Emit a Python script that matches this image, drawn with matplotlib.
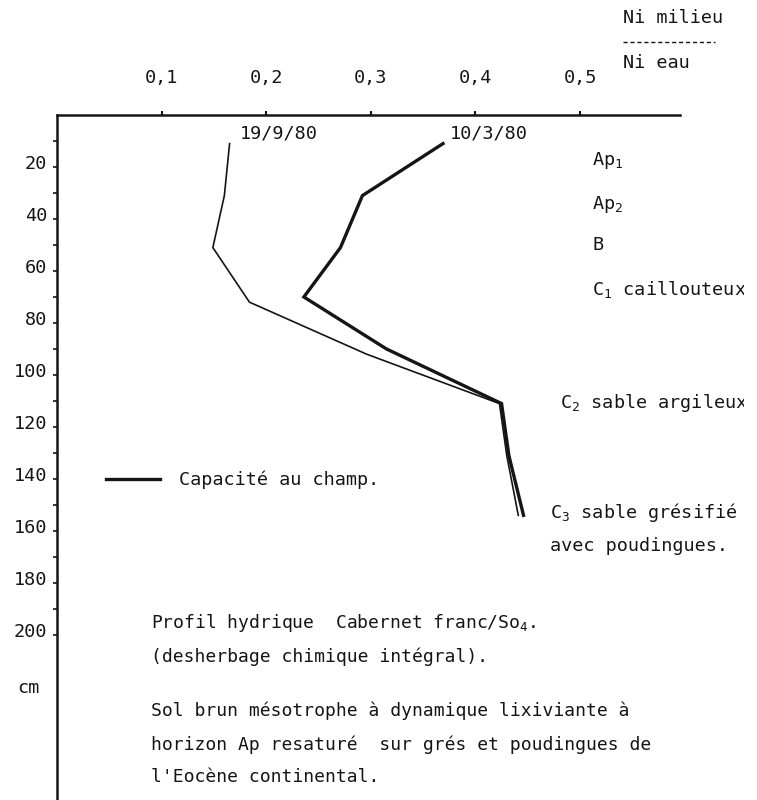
import matplotlib
matplotlib.use('Agg')
import matplotlib.pyplot as plt
from matplotlib.transforms import ScaledTranslation, Bbox, TransformedBbox

plt.rcParams['font.family'] = ['DejaVu Sans Mono']
plt.rcParams['mathtext.fontset'] = 'custom'
plt.rcParams['mathtext.rm'] = 'DejaVu Sans Mono'
plt.rcParams['mathtext.it'] = 'DejaVu Sans Mono'
plt.rcParams['font.size'] = 13.3

# profondeur (cm) et rapport Ni milieu / Ni eau
prof_sept = [11, 31, 51, 72, 92, 111, 131, 154]
ni_sept = [0.165, 0.160, 0.149, 0.184, 0.296, 0.423, 0.430, 0.441]
prof_mars = [11, 31, 51, 70, 90, 111, 131, 154]
ni_mars = [0.369, 0.292, 0.271, 0.236, 0.315, 0.425, 0.432, 0.446]

xticks = [0.1, 0.2, 0.3, 0.4, 0.5]
xlabels = ['0,1', '0,2', '0,3', '0,4', '0,5']
yticks = [10, 20, 30, 40, 50, 60, 70, 80, 90, 100,
          110, 120, 130, 140, 150, 160, 170, 180, 190, 200]
ylabels = ['', '20', '', '40', '', '60', '', '80', '', '100',
           '', '120', '', '140', '', '160', '', '180', '', '200']

horizons = ['Ap$_1$', 'Ap$_2$', 'B', 'C$_1$ caillouteux',
            'C$_2$ sable argileux', 'C$_3$ sable grésifié', 'avec poudingues.']

ink = '#151515'

fig = plt.figure(figsize=(7.57, 8.0), dpi=100)
ax = fig.add_axes([57/757, 0, (680-57)/757, 1-115/800])

ax.plot(ni_sept, prof_sept, color=ink, lw=1.2, solid_joinstyle='miter')
mars, = ax.plot(ni_mars, prof_mars, color=ink, lw=2.4, solid_joinstyle='miter')

ax.set_xlim(0, 0.5956)
ax.set_ylim(263.5, 0)

ax.xaxis.tick_top()
ax.set_xticks(xticks)
ax.set_xticklabels(xlabels)
ax.set_yticks(yticks)
ax.set_yticklabels(ylabels)
ax.tick_params(axis='x', direction='out', length=3, width=1.5, pad=17, colors=ink)
ax.tick_params(axis='y', direction='out', length=3, width=1.2, pad=4, colors=ink)
for s in ['right', 'bottom']:
    ax.spines[s].set_visible(False)
for s in ['top', 'left']:
    ax.spines[s].set_linewidth(1.8)
    ax.spines[s].set_color(ink)

off = ScaledTranslation(0, 0.05, fig.dpi_scale_trans)
for lab in ax.get_yticklabels():
    lab.set_transform(lab.get_transform() + off)

fig.text(17/757, 1-688/800, 'cm', va='center', color=ink)

# dates
ax.text(0.175, 7, '19/9/80', va='center', color=ink)
ax.text(0.376, 7, '10/3/80', va='center', color=ink)

# horizons (texte coupé au bord droit comme sur l'original)
clip = TransformedBbox(Bbox([[0, 0], [744/757, 1]]), fig.transFigure)
hx = [592, 592, 592, 592, 560, 550, 550]
hy = [165, 209, 250, 295, 408, 518, 551]
for t, x, y in zip(horizons, hx, hy):
    txt = fig.text(x/757, 1-y/800, t, va='baseline', color=ink)
    txt.set_clip_box(clip)
    txt.set_clip_on(True)

# Ni milieu / Ni eau
fig.text(623/757, 1-18/800, 'Ni milieu', va='center', color=ink)
fig.add_artist(plt.Line2D([623/757, 715/757], [1-42/800, 1-42/800],
                          color=ink, lw=1, ls=(0, (3, 2))))
fig.text(623/757, 1-63/800, 'Ni eau', va='center', color=ink)

ax.legend([mars], ['Capacité au champ.'], frameon=False,
          loc='center left', bbox_to_anchor=(106/757, 1-480/800),
          bbox_transform=fig.transFigure, borderpad=0, borderaxespad=0,
          handlelength=2.9, handletextpad=1.05, prop={'size': 13.3},
          labelcolor=ink)

fig.text(151/757, 1-623/800, 'Profil hydrique  Cabernet franc/So$_4$.',
         va='center', color=ink, fontsize=13)
fig.text(151/757, 1-657/800, '(desherbage chimique intégral).',
         va='center', color=ink, fontsize=13)
fig.text(151/757, 1-702/800,
         'Sol brun mésotrophe à dynamique lixiviante à\n'
         'horizon Ap resaturé  sur grés et poudingues de\n'
         "l'Eocène continental.",
         va='top', ha='left', color=ink, linespacing=2.0, fontsize=13)

fig.savefig('out.png', dpi=100)
